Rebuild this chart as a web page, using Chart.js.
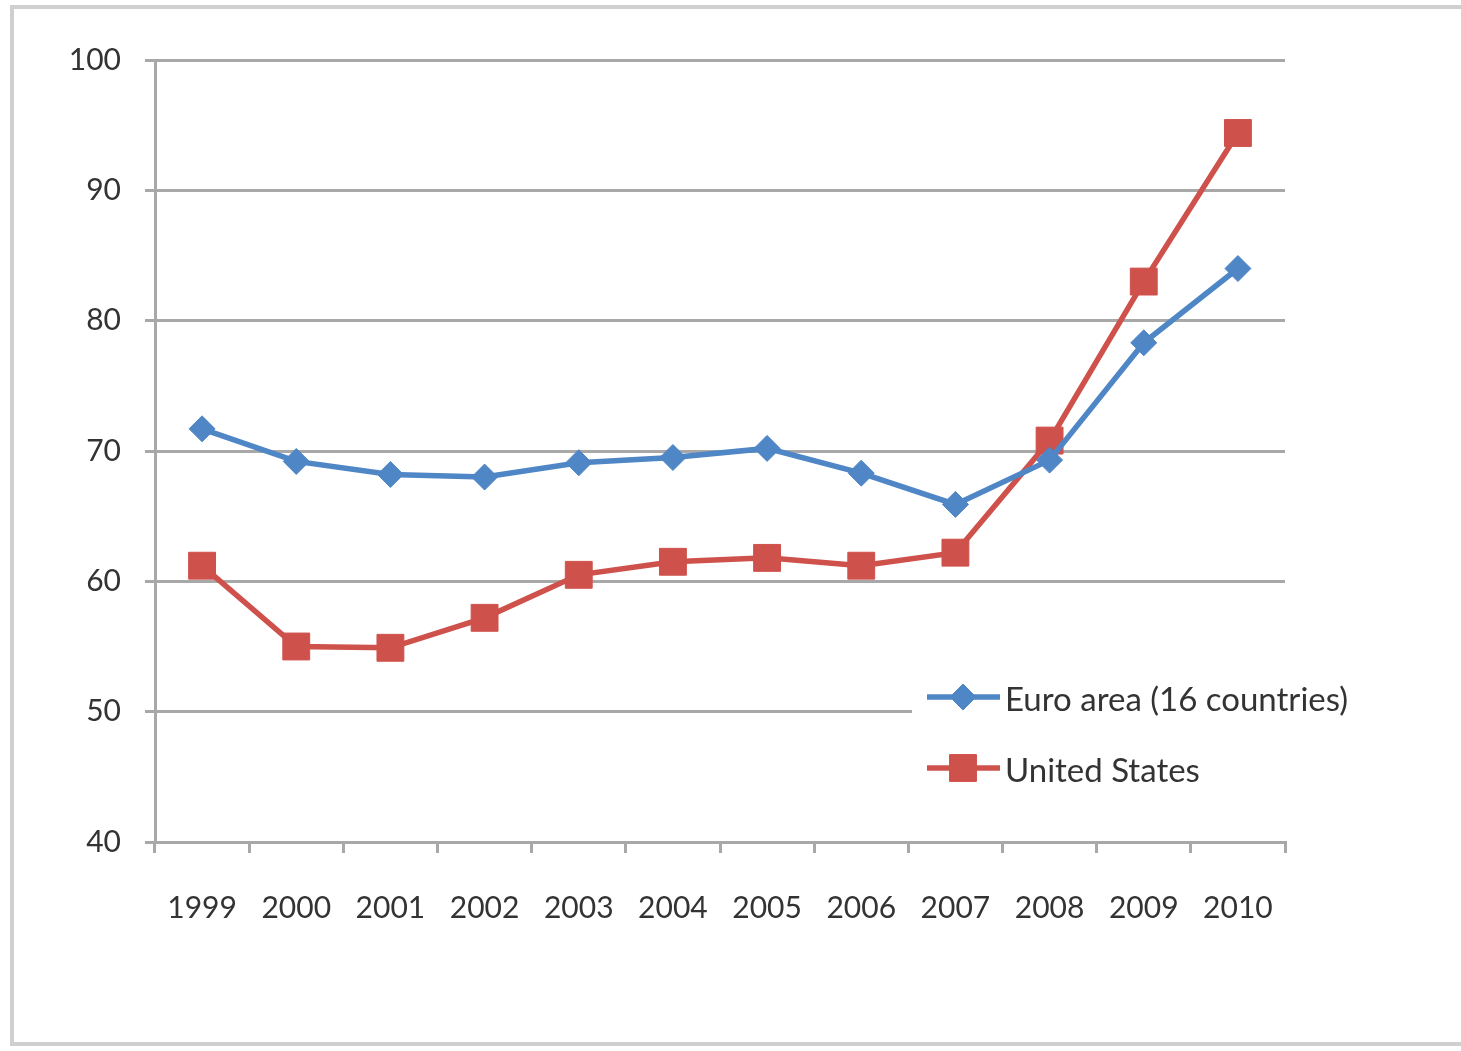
<!DOCTYPE html>
<html>
<head>
<meta charset="utf-8">
<script src="https://cdn.jsdelivr.net/npm/chart.js@4/dist/chart.umd.min.js"></script>
<style>
  html, body { margin: 0; padding: 0; background: #fff; overflow: hidden; }
  #wrap { position: absolute; left: 0; top: 0; width: 1461px; height: 1051px; }
  #frame { position: absolute; left: 10px; top: 5px; width: 1470px; height: 1041px;
           border-left: 4px solid #cfcfcf; border-top: 4px solid #cfcfcf; border-bottom: 4px solid #cfcfcf; box-sizing: border-box; }
  canvas { position: absolute; left: 0; top: 0; }
</style>
</head>
<body>
<div id="wrap">
  <div id="frame"></div>
  <canvas id="c" width="1461" height="1051"></canvas>
</div>
<script>
const years = ['1999','2000','2001','2002','2003','2004','2005','2006','2007','2008','2009','2010'];
const euroArea = [71.7, 69.2, 68.2, 68.0, 69.1, 69.5, 70.2, 68.3, 65.9, 69.3, 78.3, 84.0];
const unitedStates = [61.2, 55.0, 54.9, 57.2, 60.5, 61.5, 61.8, 61.2, 62.2, 70.8, 83.0, 94.4];
const seriesNames = ['Euro area (16 countries)', 'United States'];
const yMin = 40, yMax = 100, yStep = 10;

const BLUE = '#4F86C6';
const RED = '#CF514B';
const GRID = '#A8A8A8';
const TEXT = '#333333';
const FONT = 'Lato, "Open Sans", sans-serif';

const legendPlugin = {
  id: 'insideLegend',
  afterDatasetsDraw(chart) {
    const ctx = chart.ctx;
    ctx.save();
    ctx.fillStyle = '#ffffff';
    ctx.fillRect(912, 668, 470, 135);
    const rows = [697, 768];
    chart.data.datasets.forEach((ds, i) => {
      const y = rows[i];
      ctx.strokeStyle = ds.borderColor;
      ctx.lineWidth = ds.borderWidth;
      ctx.beginPath();
      ctx.moveTo(927, y);
      ctx.lineTo(1000, y);
      ctx.stroke();
      ctx.fillStyle = ds.pointBackgroundColor;
      ctx.strokeStyle = ds.pointBorderColor;
      ctx.lineWidth = 1;
      Chart.helpers.drawPoint(ctx, {pointStyle: ds.pointStyle, rotation: 0, borderWidth: 1, radius: ds.pointRadius}, 963, y);
      ctx.fillStyle = TEXT;
      ctx.font = '33px ' + FONT;
      ctx.textBaseline = 'middle';
      ctx.textAlign = 'left';
      ctx.fillText(ds.label, 1005, y + 3);
    });
    ctx.restore();
  }
};

new Chart(document.getElementById('c'), {
  type: 'line',
  data: {
    labels: years,
    datasets: [
      { label: seriesNames[0], data: euroArea, borderColor: BLUE, backgroundColor: BLUE,
        pointBackgroundColor: BLUE, pointBorderColor: BLUE, borderWidth: 5.5,
        pointStyle: 'rectRot', pointRadius: 13, pointBorderWidth: 1, tension: 0 },
      { label: seriesNames[1], data: unitedStates, borderColor: RED, backgroundColor: RED,
        pointBackgroundColor: RED, pointBorderColor: RED, borderWidth: 5.5,
        pointStyle: 'rect', pointRadius: 19, pointBorderWidth: 1, tension: 0 }
    ]
  },
  options: {
    responsive: false,
    animation: false,
    devicePixelRatio: 1,
    layout: { padding: { left: 0, right: 176, top: 60, bottom: 0 } },
    plugins: { legend: { display: false }, tooltip: { enabled: false } },
    scales: {
      x: {
        offset: true,
        grid: { offset: true, drawOnChartArea: false, drawTicks: true, tickLength: 11, color: GRID, lineWidth: 3 },
        border: { display: true, color: GRID, width: 3 },
        ticks: { color: TEXT, font: { family: FONT, size: 30 }, padding: 37, maxRotation: 0, autoSkip: false },
        afterFit(s) { s.height = 209; }
      },
      y: {
        min: yMin, max: yMax,
        ticks: { stepSize: yStep, color: TEXT, font: { family: FONT, size: 30 }, padding: 24 },
        grid: { color: GRID, lineWidth: 3, tickLength: 10 },
        border: { display: true, color: GRID, width: 3 },
        afterFit(s) { s.width = 155; }
      }
    }
  },
  plugins: [legendPlugin]
});
</script>
</body>
</html>
